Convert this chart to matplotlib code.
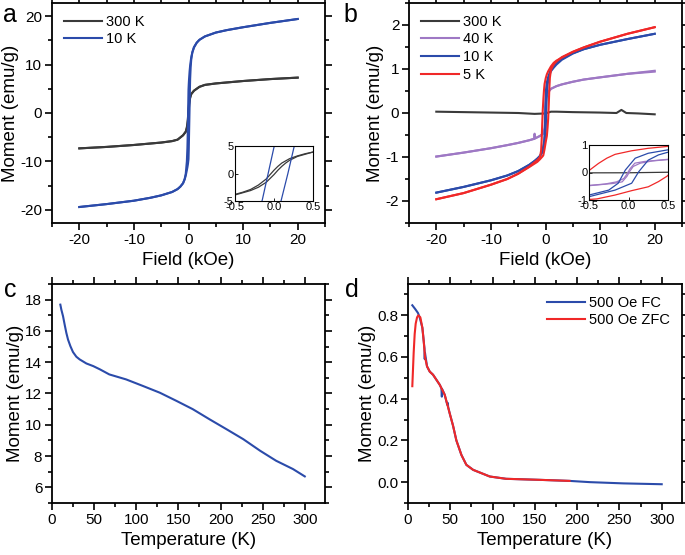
import matplotlib
matplotlib.use("Agg")
import matplotlib.pyplot as plt
from matplotlib.ticker import MultipleLocator

plt.rcParams['font.family'] = ['Liberation Sans', 'DejaVu Sans']
plt.rcParams['axes.unicode_minus'] = False

# colours
c_black = '#3a3a3a'
c_blue = '#2b4baa'
c_purple = '#9e78c4'
c_red = '#f02828'

# ---- panel a: M(H) loops, 300 K and 10 K ----
a300_desc_H = [20, 15, 10, 5, 3, 2, 1, 0.5, 0.4, 0.3, 0.2, 0.15, 0.1, 0.05, 0.0, -0.05, -0.1,
               -0.2, -0.3, -0.4, -0.5, -1, -2, -3, -5, -10, -15, -20]
a300_desc_M = [7.3, 7.0, 6.6, 6.1, 5.8, 5.4, 4.6, 3.9, 3.6, 3.2, 2.7, 2.3, 1.9, 1.3, 0.6, -0.2, -1.0,
               -2.1, -2.9, -3.4, -3.8, -4.6, -5.5, -5.8, -6.1, -6.6, -7.0, -7.3]
a300_asc_H = [-20, -15, -10, -5, -3, -2, -1, -0.5, -0.4, -0.3, -0.2, -0.1, -0.05, 0.0, 0.05, 0.1,
              0.15, 0.2, 0.3, 0.4, 0.5, 1, 2, 3, 5, 10, 15, 20]
a300_asc_M = [-7.3, -7.0, -6.6, -6.1, -5.8, -5.5, -4.6, -3.9, -3.5, -3.1, -2.5, -1.6, -0.9, -0.2, 0.6, 1.3,
              1.9, 2.4, 3.1, 3.5, 3.9, 4.6, 5.4, 5.8, 6.1, 6.6, 7.0, 7.3]

a10_desc_H = [20, 15, 10, 7, 5, 3, 2, 1.5, 1, 0.7, 0.5, 0.3, 0.2, 0.1, 0.05, 0.0, -0.05, -0.075,
              -0.1, -0.15, -0.2, -0.3, -0.5, -0.7, -1, -1.5, -2, -3, -5, -7, -10, -15, -20]
a10_desc_M = [19.4, 18.6, 17.7, 17.1, 16.6, 15.8, 15.1, 14.5, 13.5, 12.5, 11.5, 9.8, 8.6, 7.0, 6.0, 4.8, 1.6, 0.0,
              -1.6, -4.8, -7.2, -10.0, -12.5, -13.6, -14.5, -15.2, -15.7, -16.3, -17.0, -17.5, -18.1, -18.8, -19.4]
a10_asc_H = [-20, -15, -10, -7, -5, -3, -2, -1.5, -1, -0.7, -0.5, -0.3, -0.2, -0.1, 0.0, 0.05, 0.09,
             0.178, 0.26, 0.3, 0.4, 0.5, 0.7, 1, 1.5, 2, 3, 5, 7, 10, 15, 20]
a10_asc_M = [-19.4, -18.8, -18.1, -17.5, -17.0, -16.3, -15.7, -15.2, -14.5, -13.7, -12.9, -11.8, -11.2, -10.5, -9.5, -7.4, -5.0,
             0.0, 5.0, 7.0, 9.5, 11.0, 12.5, 13.6, 14.5, 15.1, 15.8, 16.6, 17.1, 17.7, 18.6, 19.4]

# ---- panel b: M(H) loops, 300 K, 40 K, 10 K, 5 K ----
b300_H = [-20, -15, -10, -5, -2, 0, 1, 2, 5, 10, 13, 13.9, 14.8, 17, 20]
b300_M = [0.03, 0.02, 0.01, 0.0, -0.02, -0.01, 0.03, 0.03, 0.02, 0.01, 0.0, 0.07, 0.0, -0.01, -0.03]

b40_desc_H = [20, 15, 10, 7, 5, 3, 2, 1, 0.5, 0.2, 0.08, 0.02, -0.02, -0.06, -0.15, -0.3, -0.5, -1,
              -1.9, -2.0, -2.1, -3, -5, -7, -10, -15, -20]
b40_desc_M = [0.96, 0.89, 0.81, 0.76, 0.71, 0.65, 0.61, 0.55, 0.48, 0.40, 0.34, 0.14, -0.06, -0.22, -0.34, -0.42, -0.47, -0.52,
              -0.58, -0.47, -0.59, -0.62, -0.68, -0.73, -0.80, -0.90, -0.99]
b40_asc_H = [-20, -15, -10, -7, -5, -3, -2, -1, -0.5, -0.2, -0.08, -0.02, 0.02, 0.06, 0.15, 0.3, 0.5,
             1, 2, 3, 5, 7, 10, 15, 20]
b40_asc_M = [-0.99, -0.90, -0.80, -0.73, -0.68, -0.62, -0.58, -0.52, -0.48, -0.40, -0.34, -0.14, 0.06, 0.22, 0.34, 0.42, 0.47,
             0.55, 0.61, 0.65, 0.71, 0.76, 0.81, 0.89, 0.94]

b10_desc_H = [20, 15, 10, 7, 5, 3, 2, 1, 0.49, 0.25, 0.085, -0.04, -0.13, -0.25, -0.5, -0.7, -1, -1.5,
              -2, -3, -5, -7, -10, -15, -20]
b10_desc_M = [1.80, 1.68, 1.55, 1.45, 1.36, 1.23, 1.14, 1.0, 0.82, 0.70, 0.52, 0.09, -0.39, -0.64, -0.82, -0.90, -0.97, -1.04,
              -1.09, -1.18, -1.32, -1.42, -1.53, -1.68, -1.81]
b10_asc_H = [-20, -15, -10, -7, -5, -3, -2, -1, -0.5, -0.17, 0.04, 0.13, 0.25, 0.38, 0.49, 0.7, 1, 1.5,
             2, 3, 5, 7, 10, 15, 20]
b10_asc_M = [-1.81, -1.68, -1.53, -1.42, -1.32, -1.18, -1.09, -0.98, -0.88, -0.64, -0.39, 0.03, 0.45, 0.64, 0.73, 0.86, 0.95, 1.03,
             1.10, 1.21, 1.35, 1.45, 1.55, 1.68, 1.80]

b5_desc_H = [20, 15, 10, 7, 5, 3, 2, 1.5, 1, 0.5, 0.25, 0.04, -0.17, -0.275, -0.38, -0.5, -0.6, -0.7,
             -0.8, -1, -1.5, -2, -3, -5, -7, -10, -15, -20]
b5_desc_M = [1.95, 1.80, 1.62, 1.49, 1.39, 1.26, 1.19, 1.14, 1.06, 0.95, 0.88, 0.79, 0.66, 0.52, 0.33, 0.07, -0.25, -0.6,
             -0.85, -1.0, -1.07, -1.12, -1.22, -1.38, -1.50, -1.63, -1.82, -1.96]
b5_asc_H = [-20, -15, -10, -7, -5, -3, -2, -1.5, -1, -0.5, -0.4, -0.17, 0.04, 0.25, 0.38, 0.49, 0.6, 0.7,
            0.8, 1.0, 1.3, 1.6, 2, 3, 5, 7, 10, 15, 20]
b5_asc_M = [-1.96, -1.82, -1.63, -1.50, -1.38, -1.23, -1.15, -1.11, -1.05, -0.98, -0.96, -0.82, -0.66, -0.52, -0.33, -0.13, 0.2, 0.55,
            0.8, 0.98, 1.06, 1.12, 1.17, 1.27, 1.39, 1.49, 1.62, 1.80, 1.95]

# ---- panel c: M(T) ----
c_T = [9.9, 11.1, 13.1, 15.0, 17.0, 19.0, 21.8, 24.9, 28.9, 32.8, 40.8, 49, 57, 68, 88, 108, 128, 148,
       167, 187, 207, 227, 247, 266, 286, 300]
c_M = [17.68, 17.36, 16.94, 16.41, 15.88, 15.45, 15.03, 14.65, 14.35, 14.18, 13.92, 13.75, 13.54, 13.22,
       12.9, 12.48, 12.05, 11.52, 11.0, 10.35, 9.72, 9.08, 8.34, 7.70, 7.17, 6.70]

# ---- panel d: FC / ZFC ----
fc_T = [5.1, 8.5, 11.8, 13.8, 17, 19.5, 19.8, 20.1, 22.5, 25.7, 29.6, 37.5, 39.5, 40, 40.5, 43.4, 46.5,
        47, 47.5, 49.3, 53.3, 57.2, 63.2, 69, 77, 96.7, 116, 156, 191, 215, 255, 300]
fc_M = [0.848, 0.83, 0.811, 0.79, 0.74, 0.64, 0.59, 0.62, 0.555, 0.53, 0.515, 0.467, 0.45, 0.41, 0.445,
        0.419, 0.37, 0.38, 0.36, 0.33, 0.27, 0.20, 0.13, 0.083, 0.059, 0.027, 0.016, 0.011, 0.006, 0.0,
        -0.006, -0.01]
zfc_T = [5.1, 5.9, 6.7, 7.9, 9.1, 10.7, 12.2, 14.6, 17, 18.6, 20.1, 22.5, 25.7, 29.6, 37.5, 43.4, 49.3,
         53.3, 57.2, 63.2, 69, 77, 96.7, 116, 156, 191]
zfc_M = [0.46, 0.54, 0.62, 0.71, 0.76, 0.79, 0.80, 0.79, 0.74, 0.675, 0.60, 0.555, 0.53, 0.515, 0.467,
         0.419, 0.33, 0.27, 0.20, 0.13, 0.083, 0.059, 0.027, 0.016, 0.011, 0.006]

fig = plt.figure(figsize=(6.85, 5.55), dpi=100)
W, H = 685.0, 555.0


def box(l, t, r, b):
    return [l / W, 1 - b / H, (r - l) / W, (b - t) / H]


def style(ax, xmaj, xmin, ymaj, ymin):
    for s in ax.spines.values():
        s.set_linewidth(1.3)
    ax.xaxis.set_major_locator(MultipleLocator(xmaj))
    ax.xaxis.set_minor_locator(MultipleLocator(xmin))
    ax.yaxis.set_major_locator(MultipleLocator(ymaj))
    ax.yaxis.set_minor_locator(MultipleLocator(ymin))
    ax.tick_params(which='both', direction='out', top=True, right=True, width=1.2, labelsize=11, pad=2)
    ax.tick_params(which='major', length=5)
    ax.tick_params(which='minor', length=3)
    ax.set_ylabel('Moment (emu/g)', fontsize=13.5, labelpad=1)


def style_inset(ax):
    for s in ax.spines.values():
        s.set_linewidth(0.8)
    ax.set_xticks([-0.5, 0.0, 0.5])
    ax.tick_params(which='both', direction='in', length=2, width=0.6, labelsize=8, pad=1)


lw = 1.5
leg_kw = dict(frameon=False, fontsize=10.5, handlelength=2.6, labelspacing=0.25,
              borderaxespad=0.4, handletextpad=0.3)

# panel a
ax = fig.add_axes(box(52, 3, 325, 223))
ax.plot(a300_desc_H, a300_desc_M, color=c_black, lw=lw, label='300 K')
ax.plot(a300_asc_H, a300_asc_M, color=c_black, lw=lw)
ax.plot(a10_desc_H, a10_desc_M, color=c_blue, lw=lw, label='10 K')
ax.plot(a10_asc_H, a10_asc_M, color=c_blue, lw=lw)
ax.set_xlim(-25, 25)
ax.set_ylim(-22.7, 22.7)
style(ax, 10, 5, 10, 5)
ax.set_xlabel('Field (kOe)', fontsize=13.5)
ax.legend(loc='upper left', **leg_kw)

ins = fig.add_axes(box(235, 146, 313, 201))
ins.plot(a300_desc_H, a300_desc_M, color=c_black, lw=0.9)
ins.plot(a300_asc_H, a300_asc_M, color=c_black, lw=0.9)
ins.plot(a10_desc_H, a10_desc_M, color=c_blue, lw=0.9)
ins.plot(a10_asc_H, a10_asc_M, color=c_blue, lw=0.9)
ins.set_xlim(-0.5, 0.5)
ins.set_ylim(-5, 5)
ins.set_yticks([-5, 0, 5])
style_inset(ins)

# panel b
ax = fig.add_axes(box(409, 3, 682, 223))
ax.plot(b300_H, b300_M, color=c_black, lw=lw, label='300 K')
ax.plot(b40_desc_H, b40_desc_M, color=c_purple, lw=lw, label='40 K')
ax.plot(b40_asc_H, b40_asc_M, color=c_purple, lw=lw)
ax.plot(b10_desc_H, b10_desc_M, color=c_blue, lw=lw, label='10 K')
ax.plot(b10_asc_H, b10_asc_M, color=c_blue, lw=lw)
ax.plot(b5_desc_H, b5_desc_M, color=c_red, lw=lw, label='5 K')
ax.plot(b5_asc_H, b5_asc_M, color=c_red, lw=lw)
ax.set_xlim(-25, 25)
ax.set_ylim(-2.5, 2.5)
style(ax, 10, 5, 1, 0.5)
ax.set_xlabel('Field (kOe)', fontsize=13.5)
ax.legend(loc='upper left', **leg_kw)

ins = fig.add_axes(box(589, 145, 668, 200))
ins.plot(b300_H, b300_M, color=c_black, lw=0.9)
ins.plot(b40_desc_H, b40_desc_M, color=c_purple, lw=0.9)
ins.plot(b40_asc_H, b40_asc_M, color=c_purple, lw=0.9)
ins.plot(b10_desc_H, b10_desc_M, color=c_blue, lw=0.9)
ins.plot(b10_asc_H, b10_asc_M, color=c_blue, lw=0.9)
ins.plot(b5_desc_H, b5_desc_M, color=c_red, lw=0.9)
ins.plot(b5_asc_H, b5_asc_M, color=c_red, lw=0.9)
ins.set_xlim(-0.5, 0.5)
ins.set_ylim(-1, 1)
ins.set_yticks([-1, 0, 1])
style_inset(ins)

# panel c
ax = fig.add_axes(box(52, 284, 325, 503))
ax.plot(c_T, c_M, color=c_blue, lw=lw)
ax.set_xlim(0, 324)
ax.set_ylim(5, 19)
style(ax, 50, 25, 2, 1)
ax.set_xlabel('Temperature (K)', fontsize=13.5)

# panel d
ax = fig.add_axes(box(408, 284, 682, 503))
ax.plot(fc_T, fc_M, color=c_blue, lw=lw, label='500 Oe FC')
ax.plot(zfc_T, zfc_M, color=c_red, lw=lw, label='500 Oe ZFC')
ax.set_xlim(0, 324)
ax.set_ylim(-0.1, 0.95)
style(ax, 50, 25, 0.2, 0.1)
ax.set_xlabel('Temperature (K)', fontsize=13.5)
ax.legend(loc='upper right', **leg_kw)

# panel letters
fig.text(3 / W, 1 - 22 / H, 'a', fontsize=18, va='baseline')
fig.text(343 / W, 1 - 22 / H, 'b', fontsize=18, va='baseline')
fig.text(4 / W, 1 - 297 / H, 'c', fontsize=18, va='baseline')
fig.text(345 / W, 1 - 297 / H, 'd', fontsize=18, va='baseline')

fig.savefig('out.png', dpi=100)
